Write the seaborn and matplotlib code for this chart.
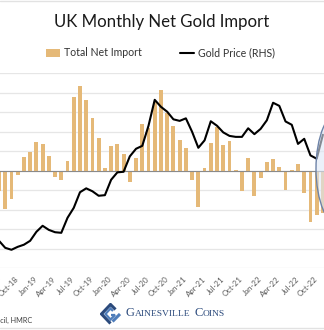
import numpy as np
import pandas as pd
import matplotlib
matplotlib.use("Agg")
import matplotlib.pyplot as plt
import seaborn as sns
from matplotlib.patches import Ellipse, Patch
from matplotlib.lines import Line2D

# ---------------- data ----------------
months = pd.date_range("2018-07-01", "2022-11-01", freq="MS").strftime("%b-%y").tolist()

net_import = [-51, -97, -72, -10, 36, 47,
              74, 70, 38, -15, -24, 24, 190, 218, 181, 135, 83, 8,
              64, 70, 42, -28, 33, 120, 109, 177, 207, 148, 114, 79,
              58, -23, -94, 6, 71, 113, 66, 76, 3, -51, 33, -64,
              -19, 22, 31, 11, -49, 3, 17, -56, -131, -113, -107]

gold_price = [1241, 1205, 1195, 1210, 1221, 1241,
              1287, 1318, 1297, 1285, 1282, 1359, 1410, 1490, 1510, 1495, 1472, 1475,
              1554, 1592, 1595, 1674, 1713, 1728, 1831, 1964, 1928, 1903, 1864, 1856,
              1869, 1800, 1718, 1756, 1854, 1831, 1797, 1779, 1774, 1774, 1818, 1788,
              1815, 1859, 1949, 1933, 1853, 1836, 1738, 1764, 1679, 1662, 1785]

tick_labels = months[::3]

title = "UK Monthly Net Gold Import"
legend_labels = ["Total Net Import", "Gold Price (RHS)"]
source = "Source: World Gold Council, HMRC"

df = pd.DataFrame({"month": months, "net": net_import,
                   "idx": np.arange(len(months)), "gold": gold_price})

# ---------------- style ----------------
sns.set_style("white")
plt.rcParams["font.family"] = ["Lato", "DejaVu Sans"]

BAR = "#E5B978"
NAVY = "#2B4A7C"
W, H = 324, 330
fig = plt.figure(figsize=(W / 100, H / 100), dpi=100)

# axes geometry (pixels): month i centred at x = -1.0 + 6.229*i
x0, x1 = -3, 56
left_px = -1.0 + 6.229 * x0
right_px = -1.0 + 6.229 * x1
top_px, bot_px = 73.3, 268.3
ax = fig.add_axes([left_px / W, (H - bot_px) / H,
                   (right_px - left_px) / W, (bot_px - top_px) / H])

sns.barplot(data=df, x="month", y="net", color=BAR, saturation=1,
            width=0.62, linewidth=0, ax=ax, zorder=3)
ax.set_ylim(-250, 250)
ax.set_yticks(np.arange(-250, 251, 50))
ax.yaxis.grid(True, color="#E6E6E6", lw=0.9, zorder=0)
ax.set_axisbelow(True)
ax.axhline(0, color="#8A8A8A", lw=0.8, zorder=4)
ax.tick_params(axis="y", left=False, labelleft=False)
for s in ax.spines.values():
    s.set_visible(False)
ax.set_xlabel("")
ax.set_ylabel("")

ax2 = ax.twinx()
sns.lineplot(data=df, x="idx", y="gold", color="black", lw=1.5, ax=ax2, zorder=5)
ax2.set_ylim(1100, 2100)
ax2.tick_params(axis="y", right=False, labelright=False)
for s in ax2.spines.values():
    s.set_visible(False)
ax2.set_xlabel("")
ax2.set_ylabel("")

ax.set_xlim(x0, x1)
ax2.set_xlim(x0, x1)
ax.set_xticks(np.arange(0, len(months), 3))
ax.set_xticklabels(tick_labels, rotation=45, ha="right", va="center",
                   rotation_mode="anchor", fontsize=5.7, color="#595959")
ax.tick_params(axis="x", length=0, pad=7)

# highlight ellipse
ell = Ellipse(((341 + 1.0) / 6.229, 1600 + (170 - 168) * 100 / 19.5),
              width=50 / 6.229, height=117 * 100 / 19.5,
              facecolor=(0.87, 0.91, 0.97, 0.6), edgecolor="#6D83A8",
              lw=1.0, zorder=10, clip_on=False)
ax2.add_patch(ell)

# title
fig.text(161.5 / W, (H - 22) / H, title, ha="center", va="center",
         fontsize=12.1, color="#1A1A1A")

# legend
handles = [Patch(facecolor=BAR, edgecolor="none"),
           Line2D([0], [0], color="black", lw=1.5)]
fig.legend(handles, legend_labels, loc="center", bbox_to_anchor=(160.5 / W, (H - 53) / H),
           ncol=2, frameon=False, fontsize=7.6, handlelength=1.35,
           handletextpad=0.35, columnspacing=3.6, labelcolor="#333333")

# source
fig.text(32 / W, (H - 320) / H, source, ha="right", va="center",
         fontsize=5.2, color="#404040")

# frame lines
fig.add_artist(Line2D([0, 1], [(H - 0.5) / H] * 2, color="#E2E2E2", lw=1.0,
                      transform=fig.transFigure))
fig.add_artist(Line2D([0, 1], [(H - 327.7) / H] * 2, color="#E2E2E2", lw=1.0,
                      transform=fig.transFigure))

# logo icon
lax = fig.add_axes([100 / W, (H - 325) / H, 22 / W, 22 / H])
lax.set_xlim(100, 122)
lax.set_ylim(325, 303)
lax.axis("off")
lax.plot([115.5, 110.5, 101.5, 110.5], [309.5, 304.5, 314, 323.5],
         color=NAVY, lw=2.2, solid_joinstyle="miter", solid_capstyle="butt")
lax.plot([120, 112.5], [314, 321.5], color="#4F7DBA", lw=2.2, solid_capstyle="butt")
lax.plot([113, 110.5, 105.5, 110.5, 115, 111], [311, 308.5, 314, 319.5, 315, 315],
         color="#4F7DBA", lw=1.6, solid_joinstyle="miter", solid_capstyle="butt")

# logo text (small caps)
fig.canvas.draw()
r = fig.canvas.get_renderer()
xpos = 126 / W
ybase = (H - 315.5) / H
for s, fs in [("G", 9.0), ("AINESVILLE", 6.8), (" ", 6.8), ("C", 9.0), ("OINS", 6.8)]:
    if s == " ":
        xpos += 3.0 / W
        continue
    t = fig.text(xpos, ybase, s, fontsize=fs, family="Liberation Serif",
                 color=NAVY, va="baseline", ha="left")
    bb = t.get_window_extent(r)
    xpos += (bb.width + 0.4) / W

fig.savefig("out.png", dpi=100)
